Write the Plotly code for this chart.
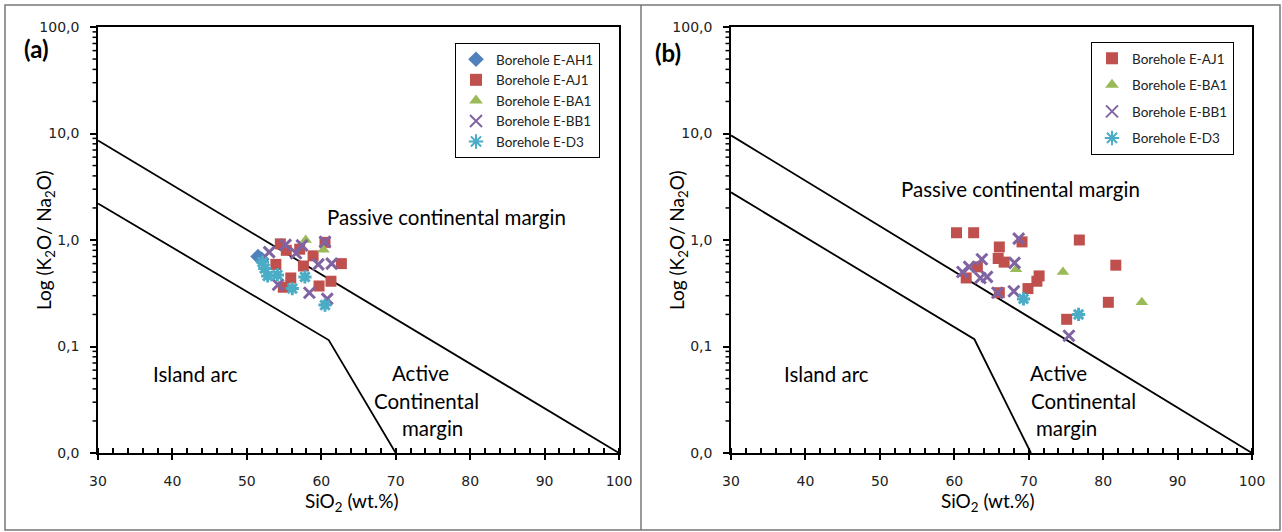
import math
import plotly.graph_objects as go

# ---------------- data ----------------
# Panel (a)
a_AH1_x = [51.5, 52.0]
a_AH1_y = [0.70, 0.66]
a_AJ1_x = [54.5, 55.3, 57.1, 58.9, 60.5, 62.7, 53.9, 55.9, 57.6, 59.7, 61.3, 54.9]
a_AJ1_y = [0.92, 0.80, 0.82, 0.71, 0.95, 0.60, 0.59, 0.44, 0.57, 0.37, 0.41, 0.36]
a_BA1_x = [57.9, 60.3]
a_BA1_y = [1.00, 0.81]
a_BB1_x = [53.0, 55.2, 57.4, 60.5, 59.6, 61.4, 54.2, 58.4, 60.8, 56.6]
a_BB1_y = [0.77, 0.90, 0.89, 0.96, 0.59, 0.60, 0.38, 0.32, 0.28, 0.75]
a_D3_x = [52.1, 52.4, 52.8, 54.1, 56.1, 57.8, 60.5]
a_D3_y = [0.62, 0.54, 0.46, 0.47, 0.35, 0.45, 0.245]

# Panel (b)
b_AJ1_x = [60.3, 62.6, 69.1, 66.05, 65.9, 66.7, 63.1, 61.6, 66.05, 71.4, 71.1, 69.9, 76.8, 81.7, 80.7, 75.1]
b_AJ1_y = [1.17, 1.17, 0.96, 0.86, 0.67, 0.62, 0.56, 0.44, 0.32, 0.46, 0.41, 0.35, 1.00, 0.58, 0.26, 0.18]
b_BA1_x = [68.3, 74.6, 85.2]
b_BA1_y = [0.53, 0.50, 0.26]
b_BB1_x = [68.65, 63.7, 62.0, 61.1, 63.5, 64.4, 68.1, 65.8, 68.0, 75.4]
b_BB1_y = [1.03, 0.66, 0.56, 0.50, 0.44, 0.45, 0.61, 0.32, 0.33, 0.126]
b_D3_x = [69.3, 76.7]
b_D3_y = [0.28, 0.20]

# Discrimination boundaries
a_upper_x = [30, 100]
a_upper_y = [8.6, 0.01]
a_lower_x = [30, 61.0, 70.0]
a_lower_y = [2.2, 0.115, 0.01]
b_upper_x = [30, 100]
b_upper_y = [9.6, 0.01]
b_lower_x = [30, 62.7, 70.3]
b_lower_y = [2.8, 0.117, 0.01]

x_ticks = [30, 40, 50, 60, 70, 80, 90, 100]
y_tickvals = [0.01, 0.1, 1, 10, 100]
y_ticktext = ["0,0", "0,1", "1,0", "10,0", "100,0"]
y_minor_vals = [m * d for d in [0.01, 0.1, 1, 10] for m in range(2, 10)]
Y_LOG_RANGE = [-2, 2]

# ---------------- style ----------------
C_BLUE = "#4F81BD"
C_RED = "#C0504D"
C_GREEN = "#9BBB59"
C_PURPLE = "#8064A2"
C_CYAN = "#4BACC6"
TXT = "Lato"
TICKF = "DejaVu Sans"

fig = go.Figure()


def add_series(x, y, name, symbol, color, xa, ya, legend, size=11, line=None):
    marker = dict(symbol=symbol, color=color, size=size)
    if line is not None:
        marker["line"] = dict(color=color, width=line)
    else:
        marker["line"] = dict(width=0)
    fig.add_trace(go.Scatter(x=x, y=y, mode="markers", name=name, marker=marker,
                             xaxis=xa, yaxis=ya, legend=legend, legendgroup=legend + name))


def add_line(x, y, xa, ya):
    fig.add_trace(go.Scatter(x=x, y=y, mode="lines", line=dict(color="black", width=1.8),
                             showlegend=False, hoverinfo="skip", xaxis=xa, yaxis=ya))


add_line(a_upper_x, a_upper_y, "x", "y")
add_line(a_lower_x, a_lower_y, "x", "y")
add_line(b_upper_x, b_upper_y, "x2", "y2")
add_line(b_lower_x, b_lower_y, "x2", "y2")

add_series(a_AH1_x, a_AH1_y, "Borehole E-AH1", "diamond", C_BLUE, "x", "y", "legend", size=12)
add_series(a_AJ1_x, a_AJ1_y, "Borehole E-AJ1", "square", C_RED, "x", "y", "legend", size=11)
add_series(a_BA1_x, a_BA1_y, "Borehole E-BA1", "triangle-up", C_GREEN, "x", "y", "legend", size=11)
add_series(a_BB1_x, a_BB1_y, "Borehole E-BB1", "x-thin", C_PURPLE, "x", "y", "legend", size=11, line=3)
add_series(a_D3_x, a_D3_y, "Borehole E-D3", "asterisk", C_CYAN, "x", "y", "legend", size=11, line=3)

add_series(b_AJ1_x, b_AJ1_y, "Borehole E-AJ1", "square", C_RED, "x2", "y2", "legend2", size=11)
add_series(b_BA1_x, b_BA1_y, "Borehole E-BA1", "triangle-up", C_GREEN, "x2", "y2", "legend2", size=11)
add_series(b_BB1_x, b_BB1_y, "Borehole E-BB1", "x-thin", C_PURPLE, "x2", "y2", "legend2", size=11, line=3)
add_series(b_D3_x, b_D3_y, "Borehole E-D3", "asterisk", C_CYAN, "x2", "y2", "legend2", size=11, line=3)

W, H = 1282, 532


def px(v):
    return v / W


def py(v):
    return 1 - v / H


A_LEFT, A_RIGHT = 98, 619
B_LEFT, B_RIGHT = 731, 1252
P_TOP, P_BOT = 27, 453

xcommon = dict(range=[30, 100], tickvals=x_ticks, ticks="outside", ticklen=5, tickwidth=1.5,
               tickcolor="black", showline=True, linecolor="black", linewidth=1.5, mirror=True,
               showgrid=False, zeroline=False, automargin=False, ticklabelstandoff=9,
               tickfont=dict(family=TICKF, size=14, color="#222"),
               minor=dict(dtick=2, ticks="inside", ticklen=5, tickcolor="black", tickwidth=1.5, showgrid=False))
ycommon = dict(type="log", range=Y_LOG_RANGE, tickvals=y_tickvals, ticktext=y_ticktext, ticks="outside",
               ticklen=6, tickwidth=1.5, tickcolor="black", showline=True, linecolor="black", linewidth=1.5,
               mirror=True, showgrid=False, zeroline=False, automargin=False, ticklabelstandoff=8,
               tickfont=dict(family=TICKF, size=14, color="#222"))

fig.update_layout(
    width=W, height=H, margin=dict(l=0, r=0, t=0, b=0, autoexpand=False),
    paper_bgcolor="white", plot_bgcolor="white",
    xaxis=dict(domain=[px(A_LEFT), px(A_RIGHT)], anchor="y", **xcommon),
    yaxis=dict(domain=[py(P_BOT), py(P_TOP)], anchor="x", **ycommon),
    xaxis2=dict(domain=[px(B_LEFT), px(B_RIGHT)], anchor="y2", **xcommon),
    yaxis2=dict(domain=[py(P_BOT), py(P_TOP)], anchor="x2", **ycommon),
    legend=dict(x=px(455), y=py(43), xanchor="left", yanchor="top", bgcolor="white",
                bordercolor="black", borderwidth=1, font=dict(family=TXT, size=13.5, color="#222"),
                tracegroupgap=0, itemsizing="constant"),
    legend2=dict(x=px(1091), y=py(42), xanchor="left", yanchor="top", bgcolor="white",
                 bordercolor="black", borderwidth=1, font=dict(family=TXT, size=13.5, color="#222"),
                 tracegroupgap=6, itemsizing="constant"),
    showlegend=True,
)

# minor log ticks on the y axes (outside, left of the axis line), placed in paper space
y0p, y1p = py(P_BOT), py(P_TOP)
for left in (A_LEFT, B_LEFT):
    for v in y_minor_vals:
        f = (math.log10(v) - Y_LOG_RANGE[0]) / (Y_LOG_RANGE[1] - Y_LOG_RANGE[0])
        yy = y0p + f * (y1p - y0p)
        fig.add_shape(type="line", xref="paper", yref="paper", x0=px(left - 5.5), x1=px(left),
                      y0=yy, y1=yy, line=dict(color="black", width=1.5), layer="above")

# outer panel borders
fig.add_shape(type="rect", xref="paper", yref="paper", x0=px(5), x1=px(1280), y0=py(530), y1=py(5),
              line=dict(color="#777", width=1.5), layer="below")
fig.add_shape(type="line", xref="paper", yref="paper", x0=px(641), x1=px(641), y0=py(530), y1=py(5),
              line=dict(color="#777", width=1.5), layer="below")


def ann(x, y, text, size=20.5, bold=False, angle=0):
    fig.add_annotation(x=px(x), y=py(y), xref="paper", yref="paper", text=("<b>%s</b>" % text) if bold else text,
                       showarrow=False, xanchor="center", yanchor="middle", textangle=angle,
                       font=dict(family=TXT, size=size, color="black"))


ann(36, 48, "(a)", size=24, bold=True)
ann(668, 52, "(b)", size=24, bold=True)

# axis titles
ann(45, 240, "Log (K<sub>2</sub>O/ Na<sub>2</sub>O)", size=19, angle=-90)
ann(678, 240, "Log (K<sub>2</sub>O/ Na<sub>2</sub>O)", size=19, angle=-90)
ann(352, 502, "SiO<sub>2</sub> (wt.%)", size=19)
ann(988, 502, "SiO<sub>2</sub> (wt.%)", size=19)

# field labels
ann(446, 217, "Passive continental margin")
ann(195, 374, "Island arc")
ann(420, 373, "Active")
ann(426, 401, "Continental")
ann(432, 428, "margin")

ann(1020, 189, "Passive continental margin")
ann(826, 374, "Island arc")
ann(1058, 373, "Active")
ann(1083, 401, "Continental")
ann(1066, 428, "margin")

fig.write_html("out.html")
